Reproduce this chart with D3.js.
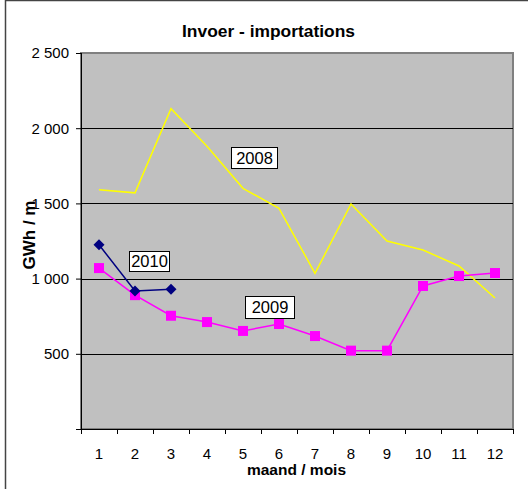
<!DOCTYPE html>
<html>
<head>
<meta charset="utf-8">
<script src="https://cdn.jsdelivr.net/npm/d3@7"></script>
<style>
  body { margin: 0; background: #fff; }
  svg { display: block; font-family: "Liberation Sans", Arial, sans-serif; }
</style>
</head>
<body>
<div class="chart"></div>
<script>
// Data
var months = ["1", "2", "3", "4", "5", "6", "7", "8", "9", "10", "11", "12"];
var yTicks = [0, 500, 1000, 1500, 2000, 2500];
var values2008 = [1590, 1570, 2130, 1880, 1600, 1467, 1035, 1496, 1250, 1190, 1084, 871];
var values2009 = [1070, 890, 753, 711, 652, 698, 618, 521, 521, 951, 1017, 1037];
var values2010 = [1225, 918, 929];

var svgWidth = 528;
var svgHeight = 489;

var margin = { top: 53, right: 15, bottom: 60, left: 81 };
var width = 513 - margin.left;
var height = 429 - margin.top;

var svg = d3.select(".chart")
  .append("svg")
  .attr("width", svgWidth)
  .attr("height", svgHeight);

// outer frame (only left and top edges visible)
svg.append("rect")
  .attr("x", 5.5).attr("y", 0.5)
  .attr("width", 540).attr("height", 500)
  .attr("fill", "none")
  .attr("stroke", "#444")
  .attr("stroke-width", 1.5);

var chartGroup = svg.append("g")
  .attr("transform", `translate(${margin.left}, ${margin.top})`);

var xScale = d3.scaleBand()
  .domain(months)
  .range([0, width]);

var yScale = d3.scaleLinear()
  .domain([0, 2500])
  .range([height, 0]);

// plot background
chartGroup.append("rect")
  .attr("width", width)
  .attr("height", height)
  .attr("fill", "#c0c0c0")
  .attr("stroke", "#808080")
  .attr("stroke-width", 2);

// gridlines
chartGroup.selectAll(".grid")
  .data(yTicks.filter(d => d > 0 && d < 2500))
  .enter()
  .append("line")
  .attr("x1", 0).attr("x2", width)
  .attr("y1", d => Math.round(yScale(d)) + 0.5)
  .attr("y2", d => Math.round(yScale(d)) + 0.5)
  .attr("stroke", "#000")
  .attr("stroke-width", 1);

// axes
var leftAxis = d3.axisLeft(yScale)
  .tickValues(yTicks)
  .tickSize(5)
  .tickPadding(7)
  .tickFormat(d => d === 0 ? "" : d3.format(",")(d).replace(",", " "));

var bottomAxis = d3.axisBottom(d3.scaleLinear().domain([0, 12]).range([0, width]))
  .tickValues(d3.range(0, 13))
  .tickSize(5)
  .tickFormat("");

var yAxisG = chartGroup.append("g").call(leftAxis)
  .attr("font-size", 15)
  .attr("font-family", "'Liberation Sans', Arial, sans-serif");
yAxisG.select(".domain").attr("d", `M0.5,0V${height}`).attr("stroke", "#000");
yAxisG.selectAll("text")
  .style("font-size", "15px")
  .attr("fill", "#000");

var xAxisG = chartGroup.append("g")
  .attr("transform", `translate(0, ${height})`)
  .call(bottomAxis);
xAxisG.select(".domain").attr("d", `M0,0.5H${width}`).attr("stroke", "#000");

chartGroup.selectAll(".xlabel")
  .data(months)
  .enter()
  .append("text")
  .attr("x", d => xScale(d) + xScale.bandwidth() / 2)
  .attr("y", height + 30)
  .attr("text-anchor", "middle")
  .attr("font-size", "15px")
  .text(d => d);

// lines
var line = d3.line()
  .x((d, i) => xScale(months[i]) + xScale.bandwidth() / 2)
  .y(d => yScale(d));

chartGroup.append("path")
  .attr("d", line(values2008))
  .attr("fill", "none")
  .attr("stroke", "#ffff00")
  .attr("stroke-width", 1.5);

chartGroup.append("path")
  .attr("d", line(values2009))
  .attr("fill", "none")
  .attr("stroke", "#ff00ff")
  .attr("stroke-width", 1.5);

chartGroup.selectAll(".sq")
  .data(values2009)
  .enter()
  .append("rect")
  .attr("x", (d, i) => xScale(months[i]) + xScale.bandwidth() / 2 - 5)
  .attr("y", d => yScale(d) - 5)
  .attr("width", 10)
  .attr("height", 10)
  .attr("fill", "#ff00ff");

chartGroup.append("path")
  .attr("d", line(values2010))
  .attr("fill", "none")
  .attr("stroke", "#000080")
  .attr("stroke-width", 1.5);

chartGroup.selectAll(".dia")
  .data(values2010)
  .enter()
  .append("path")
  .attr("d", "M0,-5.5L5.5,0L0,5.5L-5.5,0Z")
  .attr("transform", (d, i) => `translate(${xScale(months[i]) + xScale.bandwidth() / 2}, ${yScale(d)})`)
  .attr("fill", "#000080");

// series labels in boxes
var boxLabels = [
  { text: "2008", x: 231, y: 147, w: 46, h: 21 },
  { text: "2009", x: 245, y: 296, w: 49, h: 22 },
  { text: "2010", x: 129, y: 251, w: 40, h: 20 }
];
svg.selectAll(".lbl")
  .data(boxLabels)
  .enter()
  .append("g")
  .each(function (d) {
    var g = d3.select(this);
    g.append("rect")
      .attr("x", d.x + 0.5).attr("y", d.y + 0.5)
      .attr("width", d.w).attr("height", d.h)
      .attr("fill", "#fff")
      .attr("stroke", "#000");
    g.append("text")
      .attr("x", d.x + d.w / 2 + 0.5)
      .attr("y", d.y + d.h / 2 + 6)
      .attr("text-anchor", "middle")
      .attr("font-size", "16.5px")
      .text(d.text);
  });

// title and axis labels
svg.append("text")
  .attr("x", 268.5)
  .attr("y", 37)
  .attr("text-anchor", "middle")
  .attr("font-size", "17.4px")
  .attr("font-weight", "bold")
  .text("Invoer - importations");

svg.append("text")
  .attr("transform", "rotate(-90)")
  .attr("x", -235)
  .attr("y", 35)
  .attr("text-anchor", "middle")
  .attr("font-size", "17px")
  .attr("font-weight", "bold")
  .text("GWh / m");

svg.append("text")
  .attr("x", 296.5)
  .attr("y", 475)
  .attr("text-anchor", "middle")
  .attr("font-size", "15.5px")
  .attr("font-weight", "bold")
  .text("maand / mois");
</script>
</body>
</html>
